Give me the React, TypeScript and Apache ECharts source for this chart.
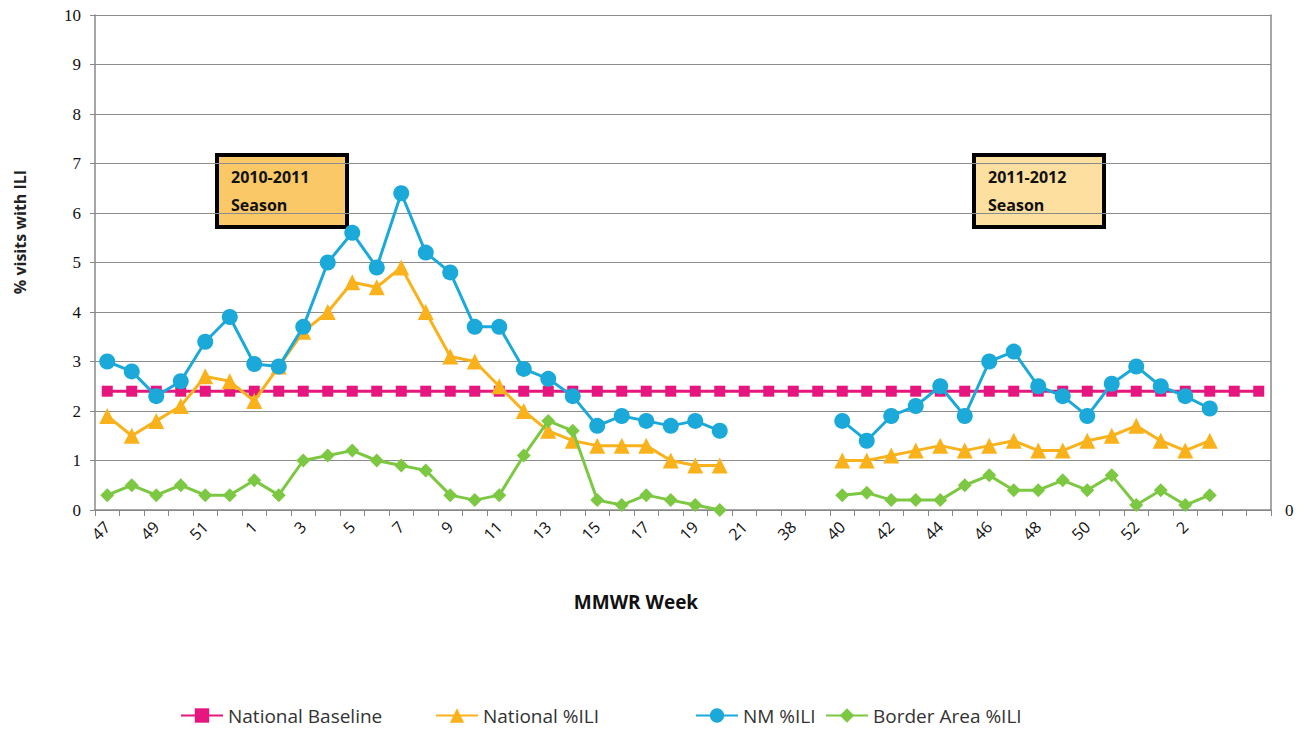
import React, { useEffect, useRef } from "react";
import * as echarts from "echarts";

const weeks: string[] = [
  "47", "48", "49", "50", "51", "52",
  "1", "2", "3", "4", "5", "6", "7", "8", "9", "10", "11", "12", "13", "14", "15", "16", "17", "18", "19", "20", "21",
  "22", "38", "39",
  "40", "41", "42", "43", "44", "45", "46", "47", "48", "49", "50", "51", "52",
  "1", "2", "3", "", " ",
];

const baseline: (number | null)[] = weeks.map(() => 2.4);

const nationalILI: (number | null)[] = [
  1.9, 1.5, 1.8, 2.1, 2.7, 2.6,
  2.2, 2.9, 3.6, 4.0, 4.6, 4.5, 4.9, 4.0, 3.1, 3.0, 2.5, 2.0, 1.6, 1.4, 1.3, 1.3, 1.3, 1.0, 0.9, 0.9, null,
  null, null, null,
  1.0, 1.0, 1.1, 1.2, 1.3, 1.2, 1.3, 1.4, 1.2, 1.2, 1.4, 1.5, 1.7,
  1.4, 1.2, 1.4, null, null,
];

const nmILI: (number | null)[] = [
  3.0, 2.8, 2.3, 2.6, 3.4, 3.9,
  2.95, 2.9, 3.7, 5.0, 5.6, 4.9, 6.4, 5.2, 4.8, 3.7, 3.7, 2.85, 2.65, 2.3, 1.7, 1.9, 1.8, 1.7, 1.8, 1.6, null,
  null, null, null,
  1.8, 1.4, 1.9, 2.1, 2.5, 1.9, 3.0, 3.2, 2.5, 2.3, 1.9, 2.55, 2.9,
  2.5, 2.3, 2.05, null, null,
];

const borderILI: (number | null)[] = [
  0.3, 0.5, 0.3, 0.5, 0.3, 0.3,
  0.6, 0.3, 1.0, 1.1, 1.2, 1.0, 0.9, 0.8, 0.3, 0.2, 0.3, 1.1, 1.8, 1.6, 0.2, 0.1, 0.3, 0.2, 0.1, 0.0, null,
  null, null, null,
  0.3, 0.35, 0.2, 0.2, 0.2, 0.5, 0.7, 0.4, 0.4, 0.6, 0.4, 0.7, 0.1,
  0.4, 0.1, 0.3, null, null,
];

const yTicks = [0, 1, 2, 3, 4, 5, 6, 7, 8, 9, 10];

const COLORS = {
  baseline: "#E5177E",
  national: "#F9B21C",
  nm: "#1BA9D9",
  border: "#7DC843",
};

export default function App() {
  const ref = useRef<HTMLDivElement>(null);

  useEffect(() => {
    if (!ref.current) return;
    const chart = echarts.init(ref.current, null, { renderer: "svg" });
    const legendText = { fontFamily: "Open Sans", fontSize: 19, color: "#333" };
    const mkLegend = (name: string, left: number) => ({
      data: [name],
      left,
      top: 701,
      itemWidth: 42,
      itemHeight: 18,
      itemGap: 0,
      textStyle: legendText,
      selectedMode: false,
    });
    const boxText = (text: string, y: number) => ({
      type: "text",
      x: 14,
      y,
      style: {
        text,
        fontFamily: "Open Sans",
        fontWeight: "bold",
        fontSize: 16,
        fill: "#111",
        textVerticalAlign: "middle",
      },
    });
    const option: any = {
      animation: false,
      backgroundColor: "#ffffff",
      grid: { left: 95, right: 33, top: 15, height: 495, containLabel: false },
      xAxis: {
        type: "category",
        data: weeks,
        boundaryGap: true,
        axisLine: { lineStyle: { color: "#888", width: 1.5 } },
        axisTick: { show: true, length: 6, interval: 0, lineStyle: { color: "#888" } },
        axisLabel: {
          interval: 1,
          rotate: 45,
          fontFamily: "Open Sans",
          fontSize: 16,
          color: "#111",
          margin: 14,
        },
        splitLine: { show: false },
      },
      yAxis: [
        {
          type: "value",
          min: 0,
          max: 10,
          interval: 1,
          axisLine: { show: true, lineStyle: { color: "#888", width: 1.5 } },
          axisTick: { show: true, length: 5, lineStyle: { color: "#888" } },
          axisLabel: {
            fontFamily: "Liberation Serif",
            fontSize: 17,
            color: "#111",
            margin: 14,
            formatter: (v: number) => (yTicks.includes(v) ? String(v) : ""),
          },
          splitLine: { show: true, lineStyle: { color: "#8c8c8c", width: 1.2 } },
        },
        {
          type: "value",
          min: 0,
          max: 10,
          interval: 1,
          position: "right",
          axisLine: { show: true, lineStyle: { color: "#888", width: 1.5 } },
          axisTick: { show: false },
          axisLabel: {
            fontFamily: "Liberation Serif",
            fontSize: 17,
            color: "#111",
            margin: 14,
            formatter: (v: number) => (v === 0 ? "0" : ""),
          },
          splitLine: { show: false },
        },
      ],
      legend: [
        mkLegend("National Baseline", 175),
        mkLegend("National %ILI", 430),
        mkLegend("NM %ILI", 690),
        mkLegend("Border Area %ILI", 820),
      ],
      series: [
        {
          name: "National Baseline",
          type: "line",
          data: baseline,
          symbol: "rect",
          symbolSize: 11,
          lineStyle: { color: COLORS.baseline, width: 3 },
          itemStyle: { color: COLORS.baseline },
          z: 2,
        },
        {
          name: "National %ILI",
          type: "line",
          data: nationalILI,
          symbol: "triangle",
          symbolSize: 16,
          connectNulls: false,
          lineStyle: { color: COLORS.national, width: 3 },
          itemStyle: { color: COLORS.national },
          z: 3,
        },
        {
          name: "NM %ILI",
          type: "line",
          data: nmILI,
          symbol: "circle",
          symbolSize: 16,
          connectNulls: false,
          lineStyle: { color: COLORS.nm, width: 3 },
          itemStyle: { color: COLORS.nm },
          z: 4,
        },
        {
          name: "Border Area %ILI",
          type: "line",
          data: borderILI,
          symbol: "diamond",
          symbolSize: 14,
          connectNulls: false,
          lineStyle: { color: COLORS.border, width: 3 },
          itemStyle: { color: COLORS.border },
          z: 5,
        },
      ],
      graphic: [
        {
          type: "text",
          x: 20,
          y: 232,
          rotation: Math.PI / 2,
          style: {
            text: "% visits with ILI",
            fontFamily: "Open Sans",
            fontWeight: "bold",
            fontSize: 16,
            fill: "#222",
            textAlign: "center",
            textVerticalAlign: "middle",
          },
        },
        {
          type: "text",
          x: 636,
          y: 602,
          style: {
            text: "MMWR Week",
            fontFamily: "Open Sans",
            fontWeight: "bold",
            fontSize: 19,
            fill: "#111",
            textAlign: "center",
            textVerticalAlign: "middle",
          },
        },
        {
          type: "group",
          left: 215,
          top: 153,
          z: 100,
          children: [
            {
              type: "rect",
              shape: { x: 0, y: 0, width: 130, height: 72 },
              style: { fill: "#FAC866", stroke: "#000", lineWidth: 4 },
            },
            boxText("2010-2011", 22),
            boxText("Season", 50),
          ],
        },
        {
          type: "group",
          left: 972,
          top: 153,
          z: 100,
          children: [
            {
              type: "rect",
              shape: { x: 0, y: 0, width: 130, height: 72 },
              style: { fill: "#FDDF9F", stroke: "#000", lineWidth: 4 },
            },
            boxText("2011-2012", 22),
            boxText("Season", 50),
          ],
        },
      ],
    };
    chart.setOption(option);
    return () => chart.dispose();
  }, []);

  return (
    <div
      ref={ref}
      style={{ position: "absolute", left: 0, top: 0, width: 1304, height: 729 }}
    />
  );
}
